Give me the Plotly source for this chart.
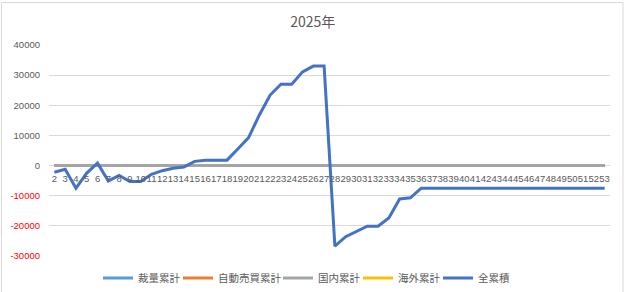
import plotly.graph_objects as go

categories = [str(n) for n in range(2, 54)]

total = [-2200, -1200, -7500, -2500, 800, -5100, -3300, -5300, -5300, -2900,
         -1700, -900, -500, 1400, 1800, 1800, 1800, 5500, 9300, 16800,
         23400, 27000, 27000, 31100, 33000, 33000, -26700, -23600, -21800, -20100,
         -20100, -17400, -11100, -10700, -7500, -7500, -7500, -7500, -7500, -7500,
         -7500, -7500, -7500, -7500, -7500, -7500, -7500, -7500, -7500, -7500,
         -7500, -7500]
discretionary = [0, 0, 0, 0, 0, 0, 0, 0, 0, 0, 0, 0, 0, 0, 0, 0, 0, 0, 0, 0,
                 0, 0, 0, 0, 0, 0, 0, 0, 0, 0, 0, 0, 0, 0, 0, 0, 0, 0, 0, 0,
                 0, 0, 0, 0, 0, 0, 0, 0, 0, 0, 0, 0]
auto_trade = [0, 0, 0, 0, 0, 0, 0, 0, 0, 0, 0, 0, 0, 0, 0, 0, 0, 0, 0, 0,
              0, 0, 0, 0, 0, 0, 0, 0, 0, 0, 0, 0, 0, 0, 0, 0, 0, 0, 0, 0,
              0, 0, 0, 0, 0, 0, 0, 0, 0, 0, 0, 0]
domestic = [0, 0, 0, 0, 0, 0, 0, 0, 0, 0, 0, 0, 0, 0, 0, 0, 0, 0, 0, 0,
            0, 0, 0, 0, 0, 0, 0, 0, 0, 0, 0, 0, 0, 0, 0, 0, 0, 0, 0, 0,
            0, 0, 0, 0, 0, 0, 0, 0, 0, 0, 0, 0]
overseas = [None] * len(categories)

series_names = ["裁量累計", "自動売買累計", "国内累計", "海外累計", "全累積"]
series_colors = ["#5B9BD5", "#ED7D31", "#A5A5A5", "#FFC000", "#4472C4"]
series_values = [discretionary, auto_trade, domestic, overseas, total]
legend_widths = [35, 55, 35, 35, 35]

y_ticks = [-30000, -20000, -10000, 0, 10000, 20000, 30000, 40000]
y_ticks_neg = [v for v in y_ticks if v < 0]

FONT = "Liberation Sans, Noto Sans CJK JP, sans-serif"
CJK = "Noto Sans CJK JP, sans-serif"

fig = go.Figure()
for name, color, vals, lw in zip(series_names, series_colors, series_values, legend_widths):
    fig.add_trace(go.Scatter(x=categories, y=vals, mode="lines", name=name,
                             line=dict(color=color, width=3), legendwidth=lw))
# invisible helper trace so the red negative-label axis gets drawn
fig.add_trace(go.Scatter(x=[categories[0]], y=[0], yaxis="y2", mode="lines",
                         line=dict(color="rgba(0,0,0,0)"), showlegend=False, hoverinfo="skip"))

L, R, T, B = 49, 15, 45, 36
W, H = 625, 292
pw, ph = W - L - R, H - T - B
Y_RANGE = [-30000, 40000]

def px_x(p):
    return (p - L) / pw

def px_y(p):
    return (H - B - p) / ph

fig.update_layout(
    width=W, height=H,
    margin=dict(l=L, r=R, t=T, b=B, autoexpand=False),
    paper_bgcolor="white", plot_bgcolor="white",
    font=dict(family=FONT, size=10, color="#595959"),
    title=dict(text="2025年", font=dict(family=CJK, size=14, color="#595959"),
               x=312.7 / W, xref="container", xanchor="center",
               y=1 - 22.5 / H, yref="container", yanchor="middle"),
    showlegend=True,
    legend=dict(orientation="h", x=98 / W, xref="container", xanchor="left",
                y=1 - 278 / H, yref="container", yanchor="middle",
                font=dict(family=CJK, size=10.5, color="#595959"),
                bgcolor="rgba(0,0,0,0)"),
    xaxis=dict(type="category", range=[-0.5, len(categories) - 0.5],
               tickmode="array", tickvals=categories, ticktext=categories,
               tickangle=0, showgrid=False, zeroline=False, showline=False,
               anchor="free", position=3 / 7, ticks="outside", ticklen=4,
               tickcolor="rgba(0,0,0,0)",
               tickfont=dict(family=FONT, size=9.5, color="#595959")),
    yaxis=dict(range=Y_RANGE, tickmode="array", tickvals=y_ticks,
               ticktext=[str(v) if v >= 0 else "" for v in y_ticks],
               showgrid=True, gridcolor="#D9D9D9", gridwidth=1, zeroline=False,
               showline=False, ticks="", ticklabelstandoff=8,
               tickfont=dict(family=FONT, size=9.5, color="#595959")),
    yaxis2=dict(range=Y_RANGE, overlaying="y", side="left", anchor="x",
                tickmode="array", tickvals=y_ticks_neg, ticktext=[str(v) for v in y_ticks_neg],
                showgrid=False, zeroline=False, showline=False, ticks="", ticklabelstandoff=8,
                tickfont=dict(family=FONT, size=9.5, color="#FF0000")),
    shapes=[dict(type="rect", xref="paper", yref="paper",
                 x0=px_x(1.5), x1=px_x(623), y0=px_y(300), y1=px_y(2.5),
                 line=dict(color="#D9D9D9", width=1), fillcolor="rgba(0,0,0,0)", layer="below")],
)

fig.write_html("out.html")
